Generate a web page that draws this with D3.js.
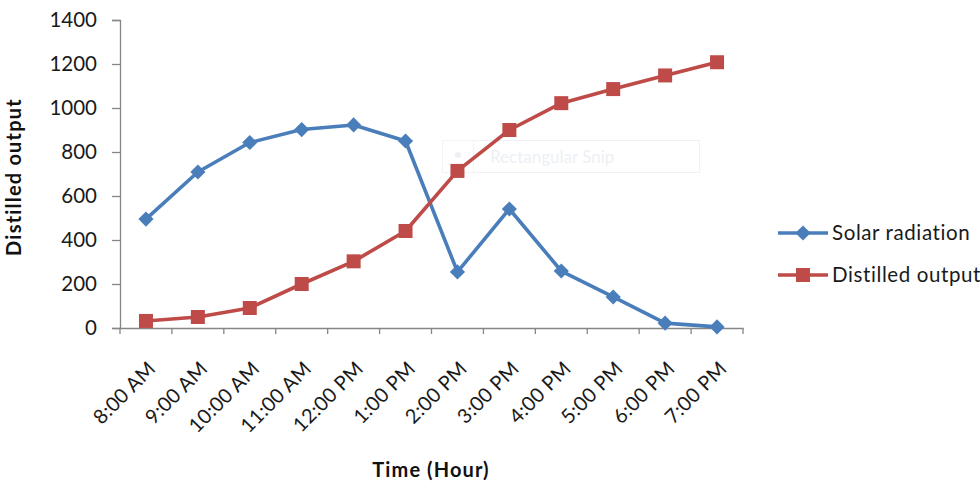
<!DOCTYPE html>
<html><head><meta charset="utf-8">
<script src="https://cdn.jsdelivr.net/npm/d3@7"></script>
<style>body{margin:0;background:#fff;} svg{display:block;}</style>
</head><body>
<svg id="c" width="980" height="483"></svg>
<script>
const categories = ["8:00 AM","9:00 AM","10:00 AM","11:00 AM","12:00 PM","1:00 PM","2:00 PM","3:00 PM","4:00 PM","5:00 PM","6:00 PM","7:00 PM"];
const solarRadiation = [495,709,843,902,923,850,255,541,259,141,22,5];
const distilledOutput = [32,50,91,200,303,441,714,900,1022,1086,1148,1208];
const yTicks = [0,200,400,600,800,1000,1200,1400];
const seriesNames = ["Solar radiation","Distilled output"];

const svg = d3.select("#c");
const font = "Lato, 'Open Sans', sans-serif";
const m = {left:120, right:743, top:20, bottom:328};
const x = d3.scaleBand().domain(categories).range([m.left, m.right]);
const y = d3.scaleLinear().domain([0,1400]).range([m.bottom, m.top]);
const axisColor = "#868686";

// faint snip watermark
svg.append("rect").attr("x",442.5).attr("y",140.5).attr("width",257).attr("height",32)
  .attr("fill","none").attr("stroke","#edf2f9").attr("stroke-width",1);
svg.append("rect").attr("x",442.5).attr("y",140.5).attr("width",31).attr("height",32)
  .attr("fill","none").attr("stroke","#f0f4fa").attr("stroke-width",1);
svg.append("circle").attr("cx",458).attr("cy",155).attr("r",3).attr("fill","#eceff3");
svg.append("text").attr("x",490).attr("y",163).attr("font-family",font).attr("font-size",17)
  .attr("fill","#edf0f4").text("Rectangular Snip");

// y axis
const ya = svg.append("g").attr("transform",`translate(${m.left},0)`)
  .call(d3.axisLeft(y).tickValues(yTicks).tickSize(8).tickPadding(15).tickFormat(d3.format("d")));
ya.select(".domain").attr("stroke",axisColor).attr("stroke-width",1.3);
ya.selectAll(".tick line").attr("stroke",axisColor).attr("stroke-width",1.3);
ya.selectAll("text").attr("font-family",font).attr("font-size",20.5).attr("fill","#1a1a1a");

// x axis
const xa = svg.append("g").attr("transform",`translate(0,${m.bottom})`)
  .call(d3.axisBottom(x).tickSize(0).tickPadding(0));
xa.select(".domain").attr("stroke",axisColor).attr("stroke-width",1.3);
xa.selectAll(".tick line").remove();
const edges = categories.map(c=>x(c)).concat([m.right]);
xa.selectAll(".xt").data(edges).enter().append("line")
  .attr("x1",d=>d).attr("x2",d=>d).attr("y1",0).attr("y2",6)
  .attr("stroke",axisColor).attr("stroke-width",1.3);
xa.selectAll(".tick text")
  .attr("font-family",font).attr("font-size",20).attr("fill","#1a1a1a")
  .attr("letter-spacing","0.3px")
  .attr("text-anchor","end")
  .attr("dy",0)
  .attr("transform","translate(11,42) rotate(-45)");

const cx = d => x(d) + x.bandwidth()/2;
const diamond = {draw(ctx, size){ const r = Math.sqrt(size/2); ctx.moveTo(0,-r); ctx.lineTo(r,0); ctx.lineTo(0,r); ctx.lineTo(-r,0); ctx.closePath(); }};
const series = [
  {name:seriesNames[0], values:solarRadiation, color:"#4A7EBB", sym:diamond, size:115},
  {name:seriesNames[1], values:distilledOutput, color:"#BE4B48", sym:d3.symbolSquare, size:196}
];
const line = d3.line().x((d,i)=>cx(categories[i])).y(d=>y(d));
series.forEach(s=>{
  svg.append("path").datum(s.values).attr("d",line).attr("fill","none")
    .attr("stroke",s.color).attr("stroke-width",3.6).attr("stroke-linejoin","round");
  svg.selectAll(null).data(s.values).enter().append("path")
    .attr("d",d3.symbol().type(s.sym).size(s.size))
    .attr("transform",(d,i)=>`translate(${cx(categories[i])},${y(d)})`)
    .attr("fill",s.color);
});

// legend
series.forEach((s,i)=>{
  const ly = 233 + i*42;
  svg.append("line").attr("x1",778).attr("x2",828).attr("y1",ly).attr("y2",ly)
    .attr("stroke",s.color).attr("stroke-width",3.6);
  svg.append("path").attr("d",d3.symbol().type(s.sym).size(s.size)())
    .attr("transform",`translate(803,${ly})`).attr("fill",s.color);
  svg.append("text").attr("x",832).attr("y",ly).attr("dy","0.35em")
    .attr("font-family",font).attr("font-size",20.5).attr("letter-spacing","0.6px")
    .attr("fill","#1a1a1a").text(s.name);
});

// axis titles
svg.append("text").attr("transform","translate(21,177) rotate(-90)")
  .attr("text-anchor","middle").attr("font-family",font).attr("font-weight","bold")
  .attr("font-size",20).attr("letter-spacing","1.2px").attr("fill","#111").text("Distilled output");
svg.append("text").attr("x",431).attr("y",477).attr("text-anchor","middle")
  .attr("font-family",font).attr("font-weight","bold").attr("font-size",20)
  .attr("letter-spacing","1.1px").attr("fill","#111")
  .text("Time (Hour)");
</script>
</body></html>
